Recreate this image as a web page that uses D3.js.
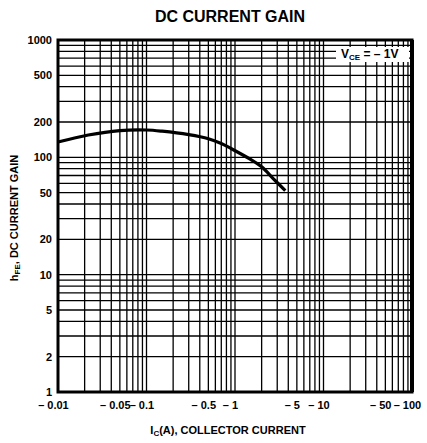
<!DOCTYPE html>
<html>
<head>
<meta charset="utf-8">
<script src="https://cdn.jsdelivr.net/npm/d3@7"></script>
<style>
  body { margin: 0; background: #fff; }
  text { font-family: "Liberation Sans", Arial, sans-serif; fill: #000; }
</style>
</head>
<body>
<div id="chart"></div>
<script>
// Data
const collectorCurrent = [0.01, 0.022, 0.05, 0.1, 0.15, 0.3, 0.5, 0.7, 0.9, 1.5, 2, 2.7, 3.7];
const currentGain = [135, 155, 169, 171, 167, 156, 144, 131, 119, 96, 83, 66, 52];
const xTicks = [0.01, 0.05, 0.1, 0.5, 1, 5, 10, 50, 100];
const xTickLabels = ["0.01", "0.05", "0.1", "0.5", "1", "5", "10", "50", "100"];
const yTicks = [1, 2, 5, 10, 20, 50, 100, 200, 500, 1000];

const width = 427, height = 443;
const margin = { top: 40, right: 15, bottom: 51, left: 58 };

const svg = d3.select("#chart")
    .append("svg")
    .attr("width", width)
    .attr("height", height);

// Log scales on both axes
const x = d3.scaleLog()
    .domain([0.01, 100])
    .range([margin.left, width - margin.right]);

const y = d3.scaleLog()
    .domain([1, 1000])
    .range([height - margin.bottom, margin.top]);

// Grid lines at 1..9 of each decade
function logGrid(lo, hi) {
    const out = [];
    for (let p = Math.log10(lo); p < Math.log10(hi); p++) {
        for (let k = 1; k <= 9; k++) out.push(k * Math.pow(10, p));
    }
    out.push(hi);
    return out;
}

svg.append("g")
    .selectAll("line")
    .data(logGrid(0.01, 100))
    .enter()
    .append("line")
    .attr("x1", d => x(d))
    .attr("x2", d => x(d))
    .attr("y1", y(1))
    .attr("y2", y(1000))
    .attr("stroke", "#000")
    .attr("stroke-width", 1.3);

svg.append("g")
    .selectAll("line")
    .data(logGrid(1, 1000))
    .enter()
    .append("line")
    .attr("x1", x(0.01))
    .attr("x2", x(100))
    .attr("y1", d => y(d))
    .attr("y2", d => y(d))
    .attr("stroke", "#000")
    .attr("stroke-width", 1.3);

// Frame
svg.append("rect")
    .attr("x", x(0.01))
    .attr("y", y(1000))
    .attr("width", x(100) - x(0.01))
    .attr("height", y(1) - y(1000))
    .attr("fill", "none")
    .attr("stroke", "#000")
    .attr("stroke-width", 3);

svg.append("line")
    .attr("x1", x(100))
    .attr("x2", x(100))
    .attr("y1", y(1000))
    .attr("y2", y(1))
    .attr("stroke", "#000")
    .attr("stroke-width", 4);

// Curve
const points = collectorCurrent.map((c, i) => [c, currentGain[i]]);
svg.append("path")
    .datum(points)
    .attr("fill", "none")
    .attr("stroke", "#000")
    .attr("stroke-width", 3.2)
    .attr("d", d3.line()
        .x(d => x(d[0]))
        .y(d => y(d[1]))
        .curve(d3.curveCatmullRom));

// Condition label with white box
const lab = svg.append("g");
lab.append("rect")
    .attr("x", 336)
    .attr("y", 47)
    .attr("width", 73)
    .attr("height", 15)
    .attr("fill", "#fff");
const labText = lab.append("text")
    .attr("x", 341)
    .attr("y", 58)
    .attr("font-size", "12px")
    .attr("font-weight", "bold");
labText.append("tspan").text("V");
labText.append("tspan").attr("font-size", "8px").attr("dy", 2).text("CE");
labText.append("tspan").attr("dy", -2).text(" = \u2013 1V");

// Y tick labels
svg.append("g")
    .selectAll("text")
    .data(yTicks)
    .enter()
    .append("text")
    .attr("x", 52)
    .attr("y", d => y(d) + 4)
    .attr("text-anchor", "end")
    .attr("font-size", "11px")
    .attr("font-weight", "bold")
    .text(d => d);

// X tick labels: number centred on the tick, dash before it
const xl = svg.append("g");
xTicks.forEach(function (t, i) {
    const num = xl.append("text")
        .attr("x", x(t))
        .attr("y", 409)
        .attr("text-anchor", "middle")
        .attr("font-size", "11px")
        .attr("font-weight", "bold")
        .text(xTickLabels[i]);
    const w = num.node().getComputedTextLength();
    xl.append("text")
        .attr("x", x(t) - w / 2 - 3)
        .attr("y", 409)
        .attr("text-anchor", "end")
        .attr("font-size", "11px")
        .attr("font-weight", "bold")
        .text("\u2013");
});

// Title
svg.append("text")
    .attr("x", 230)
    .attr("y", 22)
    .attr("text-anchor", "middle")
    .attr("font-size", "16px")
    .attr("font-weight", "bold")
    .text("DC CURRENT GAIN");

// X-axis title
const xt = svg.append("text")
    .attr("x", 228)
    .attr("y", 434)
    .attr("text-anchor", "middle")
    .attr("font-size", "11px")
    .attr("font-weight", "bold");
xt.append("tspan").text("I");
xt.append("tspan").attr("font-size", "8px").attr("dy", 2).text("C");
xt.append("tspan").attr("dy", -2).text("(A), COLLECTOR CURRENT");

// Y-axis title
const yt = svg.append("text")
    .attr("transform", "translate(18,218) rotate(-90)")
    .attr("text-anchor", "middle")
    .attr("font-size", "11px")
    .attr("font-weight", "bold");
yt.append("tspan").text("h");
yt.append("tspan").attr("font-size", "8px").attr("dy", 2).text("FE");
yt.append("tspan").attr("dy", -2).text(", DC CURRENT GAIN");
</script>
</body>
</html>
